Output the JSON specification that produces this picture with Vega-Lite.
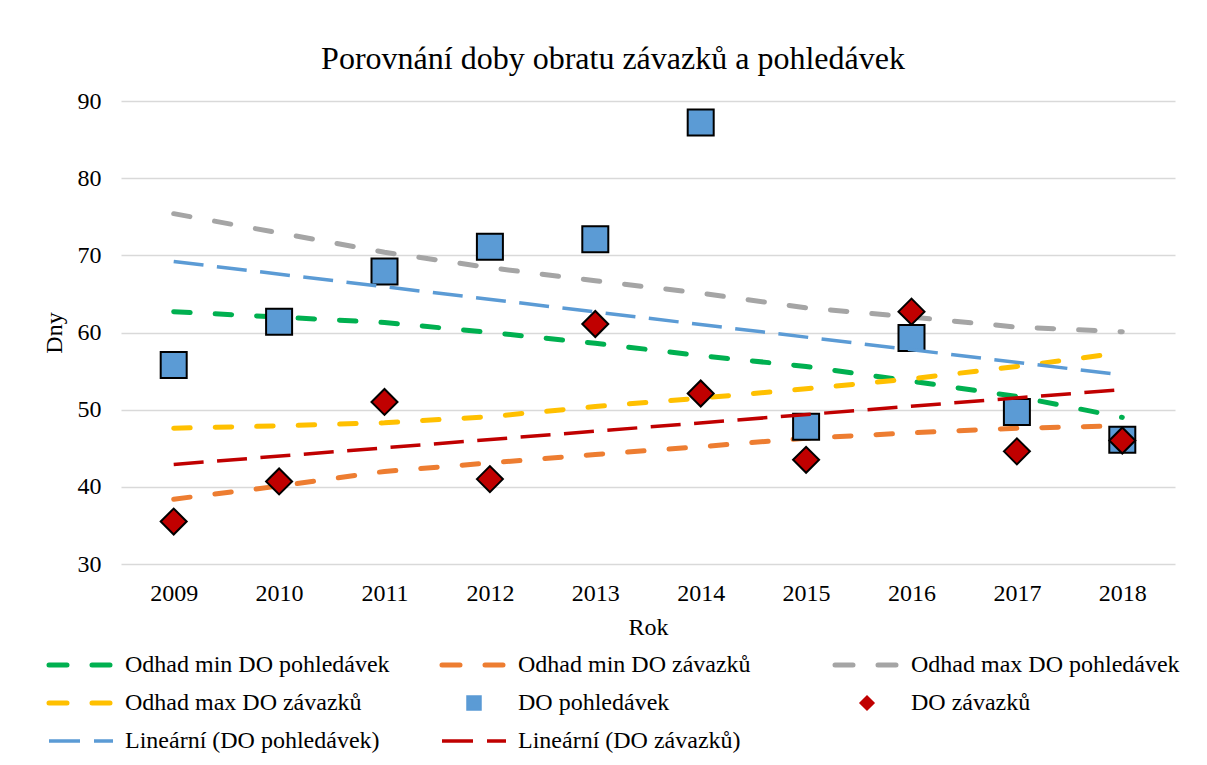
{
  "$schema": "https://vega.github.io/schema/vega-lite/v6.json",
  "width": 1054,
  "height": 463,
  "autosize": {"type": "none"},
  "padding": {"left": 121, "top": 101, "right": 32, "bottom": 201},
  "background": "white",
  "title": {
    "text": "Porovnání doby obratu závazků a pohledávek",
    "font": "Liberation Serif",
    "fontSize": 32,
    "fontWeight": "normal",
    "color": "black",
    "anchor": "middle",
    "frame": "group",
    "baseline": "alphabetic",
    "offset": -12,
    "dx": -35
  },
  "datasets": {
    "odhad": [
      {"series": "Odhad min DO pohledávek", "year": 2009, "value": 62.7},
      {"series": "Odhad min DO pohledávek", "year": 2010, "value": 62.0},
      {"series": "Odhad min DO pohledávek", "year": 2011, "value": 61.3},
      {"series": "Odhad min DO pohledávek", "year": 2012, "value": 60.0},
      {"series": "Odhad min DO pohledávek", "year": 2013, "value": 58.6},
      {"series": "Odhad min DO pohledávek", "year": 2014, "value": 57.0},
      {"series": "Odhad min DO pohledávek", "year": 2015, "value": 55.6},
      {"series": "Odhad min DO pohledávek", "year": 2016, "value": 53.7},
      {"series": "Odhad min DO pohledávek", "year": 2017, "value": 51.7},
      {"series": "Odhad min DO pohledávek", "year": 2018, "value": 49.0},
      {"series": "Odhad min DO závazků", "year": 2009, "value": 38.4},
      {"series": "Odhad min DO závazků", "year": 2010, "value": 40.1},
      {"series": "Odhad min DO závazků", "year": 2011, "value": 42.0},
      {"series": "Odhad min DO závazků", "year": 2012, "value": 43.1},
      {"series": "Odhad min DO závazků", "year": 2013, "value": 44.2},
      {"series": "Odhad min DO závazků", "year": 2014, "value": 45.2},
      {"series": "Odhad min DO závazků", "year": 2015, "value": 46.3},
      {"series": "Odhad min DO závazků", "year": 2016, "value": 47.0},
      {"series": "Odhad min DO závazků", "year": 2017, "value": 47.6},
      {"series": "Odhad min DO závazků", "year": 2018, "value": 47.9},
      {"series": "Odhad max DO pohledávek", "year": 2009, "value": 75.4},
      {"series": "Odhad max DO pohledávek", "year": 2010, "value": 72.9},
      {"series": "Odhad max DO pohledávek", "year": 2011, "value": 70.4},
      {"series": "Odhad max DO pohledávek", "year": 2012, "value": 68.4},
      {"series": "Odhad max DO pohledávek", "year": 2013, "value": 66.7},
      {"series": "Odhad max DO pohledávek", "year": 2014, "value": 65.1},
      {"series": "Odhad max DO pohledávek", "year": 2015, "value": 63.2},
      {"series": "Odhad max DO pohledávek", "year": 2016, "value": 62.0},
      {"series": "Odhad max DO pohledávek", "year": 2017, "value": 60.7},
      {"series": "Odhad max DO pohledávek", "year": 2018, "value": 60.1},
      {"series": "Odhad max DO závazků", "year": 2009, "value": 47.6},
      {"series": "Odhad max DO závazků", "year": 2010, "value": 47.9},
      {"series": "Odhad max DO závazků", "year": 2011, "value": 48.3},
      {"series": "Odhad max DO závazků", "year": 2012, "value": 49.1},
      {"series": "Odhad max DO závazků", "year": 2013, "value": 50.4},
      {"series": "Odhad max DO závazků", "year": 2014, "value": 51.5},
      {"series": "Odhad max DO závazků", "year": 2015, "value": 52.7},
      {"series": "Odhad max DO závazků", "year": 2016, "value": 54.0},
      {"series": "Odhad max DO závazků", "year": 2017, "value": 55.6},
      {"series": "Odhad max DO závazků", "year": 2018, "value": 57.4}
    ],
    "pohledavky": [
      {"series": "DO pohledávek", "year": 2009, "value": 55.8},
      {"series": "DO pohledávek", "year": 2010, "value": 61.4},
      {"series": "DO pohledávek", "year": 2011, "value": 67.9},
      {"series": "DO pohledávek", "year": 2012, "value": 71.1},
      {"series": "DO pohledávek", "year": 2013, "value": 72.1},
      {"series": "DO pohledávek", "year": 2014, "value": 87.2},
      {"series": "DO pohledávek", "year": 2015, "value": 47.8},
      {"series": "DO pohledávek", "year": 2016, "value": 59.3},
      {"series": "DO pohledávek", "year": 2017, "value": 49.7},
      {"series": "DO pohledávek", "year": 2018, "value": 46.1}
    ],
    "zavazky": [
      {"series": "DO závazků", "year": 2009, "value": 35.5},
      {"series": "DO závazků", "year": 2010, "value": 40.7},
      {"series": "DO závazků", "year": 2011, "value": 51.0},
      {"series": "DO závazků", "year": 2012, "value": 41.0},
      {"series": "DO závazků", "year": 2013, "value": 61.1},
      {"series": "DO závazků", "year": 2014, "value": 52.1},
      {"series": "DO závazků", "year": 2015, "value": 43.5},
      {"series": "DO závazků", "year": 2016, "value": 62.7},
      {"series": "DO závazků", "year": 2017, "value": 44.6},
      {"series": "DO závazků", "year": 2018, "value": 46.0}
    ],
    "linear": [
      {"series": "Lineární (DO pohledávek)", "year": 2009, "value": 69.2},
      {"series": "Lineární (DO pohledávek)", "year": 2018, "value": 54.5},
      {"series": "Lineární (DO závazků)", "year": 2009, "value": 42.9},
      {"series": "Lineární (DO závazků)", "year": 2018, "value": 52.6}
    ]
  },
  "encoding": {
    "x": {
      "field": "year",
      "type": "ordinal",
      "scale": {"type": "point", "padding": 0.5},
      "axis": {
        "title": "Rok",
        "labelAngle": 0,
        "grid": false,
        "domain": false,
        "ticks": false,
        "tickSize": 0,
        "labelPadding": 17,
        "titlePadding": 10
      }
    },
    "y": {
      "field": "value",
      "type": "quantitative",
      "scale": {"domain": [30, 90], "nice": false, "zero": false},
      "axis": {
        "title": "Dny",
        "values": [30, 40, 50, 60, 70, 80, 90],
        "grid": true,
        "domain": false,
        "ticks": false,
        "tickSize": 0,
        "labelPadding": 20,
        "titlePadding": 11
      }
    },
    "color": {
      "field": "series",
      "type": "nominal",
      "scale": {
        "domain": [
          "Odhad min DO pohledávek",
          "Odhad min DO závazků",
          "Odhad max DO pohledávek",
          "Odhad max DO závazků",
          "DO pohledávek",
          "DO závazků",
          "Lineární (DO pohledávek)",
          "Lineární (DO závazků)"
        ],
        "range": ["#00B050", "#ED7D31", "#A5A5A5", "#FFC000", "#5B9BD5", "#C00000", "#5B9BD5", "#C00000"]
      },
      "legend": {
        "title": null,
        "orient": "none",
        "legendX": -73,
        "legendY": 552,
        "direction": "horizontal",
        "columns": 3,
        "gridAlign": "all",
        "columnPadding": 38,
        "rowPadding": 14,
        "padding": 0,
        "symbolType": "stroke",
        "symbolSize": 4096,
        "symbolStrokeWidth": 1.5,
        "symbolOffset": 21,
        "labelOffset": 32,
        "labelLimit": 500,
        "labelFont": "Liberation Serif",
        "labelFontSize": 24,
        "labelColor": "black",
        "encode": {
          "symbols": {
            "update": {
              "shape": {"signal": "datum.value == 'DO pohledávek' ? 'square' : datum.value == 'DO závazků' ? 'diamond' : 'stroke'"},
              "size": {"signal": "(datum.value == 'DO pohledávek' || datum.value == 'DO závazků') ? 196 : 4096"},
              "fill": {"signal": "datum.value == 'DO pohledávek' ? '#5B9BD5' : datum.value == 'DO závazků' ? '#C00000' : 'transparent'"},
              "stroke": {"signal": "(datum.value == 'DO pohledávek' || datum.value == 'DO závazků') ? 'black' : scale('color', datum.value)"},
              "strokeWidth": {"signal": "(datum.value == 'DO pohledávek' || datum.value == 'DO závazků') ? 1.5 : (indexof(datum.value, 'Odhad') == 0 ? 5 : 3.5)"},
              "strokeDash": {"signal": "(datum.value == 'DO pohledávek' || datum.value == 'DO závazků') ? [] : (indexof(datum.value, 'Odhad') == 0 ? [18, 25] : [31, 14])"},
              "strokeCap": {"signal": "indexof(datum.value, 'Odhad') == 0 ? 'round' : 'butt'"},
              "opacity": {"value": 1}
            }
          }
        }
      }
    }
  },
  "layer": [
    {
      "data": {"name": "odhad"},
      "mark": {"type": "line", "strokeWidth": 5, "strokeCap": "round", "strokeDash": [16.5, 25]}
    },
    {
      "data": {"name": "pohledavky"},
      "mark": {"type": "point", "shape": "square", "filled": true, "size": 676, "stroke": "black", "strokeWidth": 2, "opacity": 1}
    },
    {
      "data": {"name": "zavazky"},
      "mark": {"type": "point", "shape": "diamond", "filled": true, "size": 676, "stroke": "black", "strokeWidth": 2, "opacity": 1}
    },
    {
      "data": {"name": "linear"},
      "mark": {"type": "line", "strokeWidth": 3.5, "strokeDash": [30, 13.5]}
    }
  ],
  "config": {
    "font": "Liberation Serif",
    "view": {"stroke": null},
    "axis": {
      "labelFont": "Liberation Serif",
      "labelFontSize": 24,
      "labelColor": "black",
      "titleFont": "Liberation Serif",
      "titleFontSize": 24,
      "titleFontWeight": "normal",
      "titleColor": "black",
      "gridColor": "#D9D9D9",
      "gridWidth": 1.5
    }
  }
}
